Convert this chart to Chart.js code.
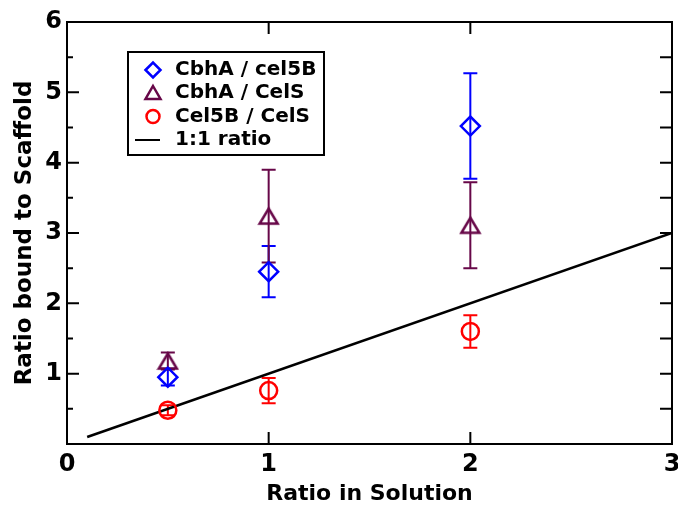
<!DOCTYPE html>
<html>
<head>
<meta charset="utf-8">
<script src="https://cdn.jsdelivr.net/npm/chart.js@4.4.1/dist/chart.umd.min.js"></script>
<style>
  html, body { margin: 0; padding: 0; background: #fff; }
  #wrap { width: 678px; height: 507px; }
</style>
</head>
<body>
<div id="wrap"><canvas id="myChart" width="678" height="507"></canvas></div>
<script>
// data
var ratioInSolution = [0.5, 1, 2];
var cbhaCel5b = [0.95, 2.45, 4.52];
var cbhaCel5bErr = [0.12, 0.365, 0.75];
var cbhaCels = [1.18, 3.24, 3.11];
var cbhaCelsErr = [0.12, 0.66, 0.61];
var cel5bCels = [0.48, 0.76, 1.60];
var cel5bCelsErr = [0.07, 0.18, 0.23];
var lineX = [0.1, 3];
var seriesNames = ["CbhA / cel5B", "CbhA / CelS", "Cel5B / CelS", "1:1 ratio"];
var xTicks = [0, 1, 2, 3];
var yMajor = [1, 2, 3, 4, 5];
var yMinor = [0.5, 1.5, 2.5, 3.5, 4.5, 5.5];

var BLUE = '#0000ff', MAROON = '#670748', RED = '#ff0000';

function pts(ys) {
  return ratioInSolution.map(function (x, i) { return {x: x, y: ys[i]}; });
}

// open triangle whose bounding box is centred on the point
function triangleImg(color, w, h, lw) {
  var c = document.createElement('canvas');
  c.width = w + lw * 2; c.height = h + lw * 2;
  var g = c.getContext('2d');
  g.strokeStyle = color; g.lineWidth = lw; g.lineJoin = 'miter';
  g.beginPath();
  g.moveTo(c.width / 2, lw);
  g.lineTo(c.width - lw, c.height - lw);
  g.lineTo(lw, c.height - lw);
  g.closePath();
  g.stroke();
  return c;
}

Chart.defaults.font.family = "'DejaVu Sans', sans-serif";
Chart.defaults.font.weight = 'bold';
Chart.defaults.color = '#000';

var errorBars = {
  id: 'errorBars',
  beforeDatasetsDraw: function (chart) {
    var ctx = chart.ctx, xs = chart.scales.x, ys = chart.scales.y;
    chart.data.datasets.forEach(function (ds) {
      if (!ds.errors) return;
      ctx.save();
      ctx.strokeStyle = ds.borderColor;
      ctx.lineWidth = 2;
      ds.data.forEach(function (p, i) {
        var px = xs.getPixelForValue(p.x);
        var top = ys.getPixelForValue(p.y + ds.errors[i]);
        var bot = ys.getPixelForValue(p.y - ds.errors[i]);
        ctx.beginPath();
        ctx.moveTo(px, top); ctx.lineTo(px, bot);
        ctx.moveTo(px - 7, top); ctx.lineTo(px + 7, top);
        ctx.moveTo(px - 7, bot); ctx.lineTo(px + 7, bot);
        ctx.stroke();
      });
      ctx.restore();
    });
  }
};

var frameAndLegend = {
  id: 'frameAndLegend',
  afterDraw: function (chart) {
    var ctx = chart.ctx, a = chart.chartArea;
    var xs = chart.scales.x, ys = chart.scales.y;
    ctx.save();
    ctx.strokeStyle = '#000';
    ctx.lineWidth = 2;
    ctx.beginPath();
    xTicks.forEach(function (v) {
      var px = xs.getPixelForValue(v);
      ctx.moveTo(px, a.bottom); ctx.lineTo(px, a.bottom - 12);
      ctx.moveTo(px, a.top); ctx.lineTo(px, a.top + 12);
    });
    yMajor.forEach(function (v) {
      var py = ys.getPixelForValue(v);
      ctx.moveTo(a.left, py); ctx.lineTo(a.left + 12, py);
      ctx.moveTo(a.right, py); ctx.lineTo(a.right - 12, py);
    });
    yMinor.forEach(function (v) {
      var py = ys.getPixelForValue(v);
      ctx.moveTo(a.left, py); ctx.lineTo(a.left + 6, py);
      ctx.moveTo(a.right, py); ctx.lineTo(a.right - 12, py);
    });
    ctx.stroke();
    ctx.strokeRect(a.left, a.top, a.right - a.left, a.bottom - a.top);

    // legend box inside the plot
    ctx.fillStyle = '#fff';
    ctx.fillRect(128, 52, 196, 103);
    ctx.strokeRect(128, 52, 196, 103);
    var rowY = [70, 93, 116.5, 140];
    var mx = 153;
    ctx.font = "bold 20px 'DejaVu Sans'";
    ctx.textBaseline = 'middle';
    ctx.textAlign = 'left';
    chart.data.datasets.forEach(function (ds, i) {
      var y = rowY[i];
      ctx.strokeStyle = ds.borderColor;
      ctx.lineWidth = 2.5;
      ctx.beginPath();
      if (ds.pointStyle === 'rectRot') {
        ctx.moveTo(mx - 7.5, y); ctx.lineTo(mx, y - 7.5); ctx.lineTo(mx + 7.5, y); ctx.lineTo(mx, y + 7.5); ctx.closePath();
      } else if (ds.label === seriesNames[1]) {
        ctx.moveTo(mx, y - 7); ctx.lineTo(mx + 7.5, y + 6); ctx.lineTo(mx - 7.5, y + 6); ctx.closePath();
      } else if (ds.pointStyle === 'circle') {
        ctx.arc(mx, y, 6.5, 0, Math.PI * 2);
      } else {
        ctx.lineWidth = 2;
        ctx.moveTo(135, y); ctx.lineTo(160, y);
      }
      ctx.stroke();
      ctx.fillStyle = '#000';
      ctx.fillText(ds.label, 175, y);
    });
    ctx.restore();
  }
};

var ctx = document.getElementById('myChart').getContext('2d');
var myChart = new Chart(ctx, {
  type: 'scatter',
  data: {
    datasets: [
      {
        label: seriesNames[0],
        data: pts(cbhaCel5b),
        errors: cbhaCel5bErr,
        pointStyle: 'rectRot',
        pointRadius: 9.5,
        borderColor: BLUE,
        backgroundColor: 'rgba(0,0,0,0)',
        borderWidth: 2.5
      },
      {
        label: seriesNames[1],
        data: pts(cbhaCels),
        errors: cbhaCelsErr,
        pointStyle: triangleImg(MAROON, 18, 15, 2.5),
        pointRadius: 10,
        borderColor: MAROON,
        backgroundColor: 'rgba(0,0,0,0)',
        borderWidth: 2.5
      },
      {
        label: seriesNames[2],
        data: pts(cel5bCels),
        errors: cel5bCelsErr,
        pointStyle: 'circle',
        pointRadius: 8.5,
        borderColor: RED,
        backgroundColor: 'rgba(0,0,0,0)',
        borderWidth: 2.5
      },
      {
        label: seriesNames[3],
        data: lineX.map(function (v) { return {x: v, y: v}; }),
        showLine: true,
        pointRadius: 0,
        borderColor: '#000',
        borderWidth: 2.5,
        fill: false
      }
    ]
  },
  options: {
    responsive: false,
    animation: false,
    devicePixelRatio: 1,
    layout: { autoPadding: false, padding: { top: 22, right: 6, left: 0, bottom: 0 } },
    plugins: {
      legend: { display: false },
      tooltip: { enabled: false }
    },
    scales: {
      x: {
        type: 'linear',
        min: 0, max: 3,
        grid: { display: false, drawTicks: false },
        border: { display: false },
        ticks: { stepSize: 1, padding: 6, font: { size: 24, weight: 'bold' } },
        title: { display: true, text: 'Ratio in Solution', padding: 0, font: { size: 22, weight: 'bold' } },
        afterFit: function (s) { s.height = 63; s.paddingRight = 0; s.paddingLeft = 0; }
      },
      y: {
        type: 'linear',
        min: 0, max: 6,
        grid: { display: false, drawTicks: false },
        border: { display: false },
        ticks: {
          stepSize: 1, padding: 5, font: { size: 24, weight: 'bold' },
          callback: function (v) { return v === 0 ? '' : v; }
        },
        title: { display: true, text: 'Ratio bound to Scaffold', padding: { top: 11, bottom: 0 }, font: { size: 23, weight: 'bold' } },
        afterFit: function (s) { s.width = 67; }
      }
    }
  },
  plugins: [errorBars, frameAndLegend]
});
</script>
</body>
</html>
